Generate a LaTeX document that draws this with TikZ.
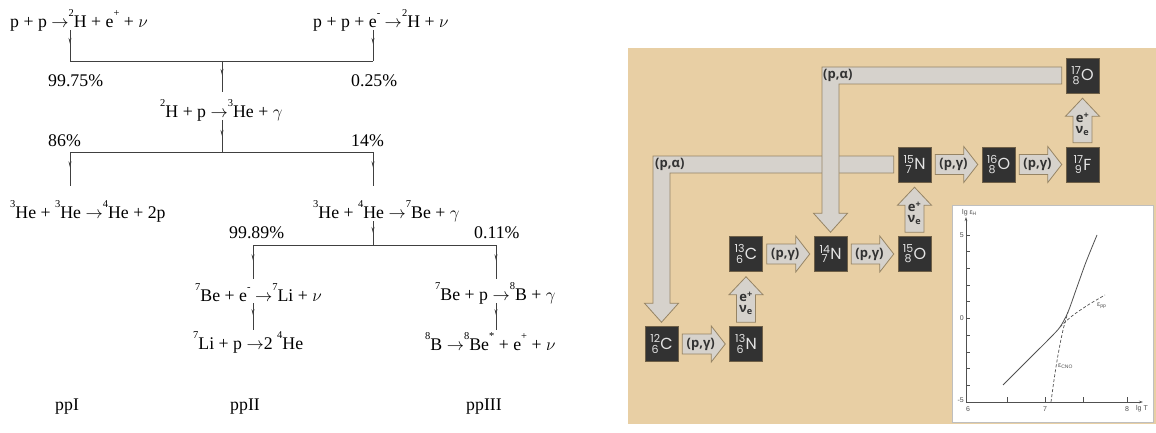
\documentclass[tikz,border=0pt]{standalone}
\usepackage{fontspec}
\usetikzlibrary{arrows.meta,calc,decorations.markings}
\setmainfont{Liberation Serif}
\newfontfamily\nucfamily{Poppins}
\newfontfamily\lblfamily{Open Sans}
\newfontfamily\gfamily{Liberation Sans}
\definecolor{tanbg}{RGB}{232,207,164}
\definecolor{boxc}{RGB}{50,50,50}
\definecolor{boxedge}{RGB}{110,95,70}
\definecolor{nuctext}{RGB}{228,228,228}
\definecolor{arrfill}{RGB}{214,210,204}
\definecolor{arredge}{RGB}{150,132,100}
\definecolor{lbltext}{RGB}{50,50,50}
\definecolor{graphline}{RGB}{80,80,80}
\newcommand\pptextfont{\fontsize{17.8}{20}\selectfont}
\newcommand\lblfont{\lblfamily\bfseries\fontsize{13}{13}\selectfont}
\newcommand\gfont{\gfamily\fontsize{7}{7}\selectfont}
\newcommand\sps[1]{\raisebox{0.62em}{\fontsize{10.5}{10.5}\selectfont #1}}
\newcommand\ra{$\rightarrow$}
\newcommand\nuc[3]{{\nucfamily\raisebox{-3.5pt}{\fontsize{11}{9}\selectfont\shortstack{#1\\[-1pt]#2}}\kern0.3pt{\fontsize{16}{16}\selectfont #3}}}
\newcommand\pgarrow[2]{%
  \draw[fat] ($(#1.east)+(4,-10)$) -- ($(#2.west)+(-18,-10)$) -- ($(#2.west)+(-18,-18)$) -- ($(#2.west)+(-4,0)$) -- ($(#2.west)+(-18,18)$) -- ($(#2.west)+(-18,10)$) -- ($(#1.east)+(4,10)$) -- cycle;
  \node[rlabel] at ($(#1.east)!0.5!(#2.west)+(-3,0)$) {(p,γ)};}
\newcommand\evarrow[2]{%
  \draw[fat] ($(#1.north)+(-9.5,-4)$) -- ($(#2.south)+(-9.5,23)$) -- ($(#2.south)+(-17,23)$) -- ($(#2.south)+(0,5)$) -- ($(#2.south)+(17,23)$) -- ($(#2.south)+(9.5,23)$) -- ($(#1.north)+(9.5,-4)$) -- cycle;
  \node[rlabel, align=center] at ($(#1.north)!0.5!(#2.south)+(0,4)$) {e\textsuperscript{+}\\[-2pt]ν\textsubscript{e}};}
\begin{document}
\begin{tikzpicture}[x=1pt,y=-1pt,
  pptext/.style={inner sep=0pt, anchor=west, font=\pptextfont},
  ppline/.style={draw=black!75, line width=0.7pt},
  midarrow/.style={postaction={decorate}, decoration={markings, mark=at position #1 with {\arrow{Stealth[length=6pt,width=3pt]}}}},
  nucbox/.style={fill=boxc, draw=boxedge, line width=0.5pt, minimum width=33pt, minimum height=35pt, inner sep=0pt, text=nuctext},
  fat/.style={fill=arrfill, draw=arredge, line width=0.8pt, line join=miter},
  rlabel/.style={font=\lblfont, text=lbltext, inner sep=0pt},
  gline/.style={draw=graphline, line width=0.7pt},
  gtext/.style={font=\gfont, text=graphline, inner sep=1pt},
]
\useasboundingbox (0,0) rectangle (1156,433);

% ---------------- pp chain ----------------
\node[pptext] (rA) at (10,20) {p + p \ra\sps{2}H + e\sps{+} + $\nu$};
\node[pptext] (rB) at (313,20) {p + p + e\sps{-} \ra\sps{2}H + $\nu$};
\node[pptext] at (48,81) {99.75\%};
\node[pptext] at (351,81) {0.25\%};
\node[pptext] (rC) at (160,110) {\sps{2}H + p \ra\sps{3}He + $\gamma$};
\node[pptext] at (48,141) {86\%};
\node[pptext] at (351,141) {14\%};
\node[pptext] (rD) at (10,211) {\sps{3}He + \sps{3}He \ra\sps{4}He + 2p};
\node[pptext] (rE) at (313,211) {\sps{3}He + \sps{4}He \ra\sps{7}Be + $\gamma$};
\node[pptext] at (229,233) {99.89\%};
\node[pptext] at (474,233) {0.11\%};
\node[pptext] (rF) at (195,293) {\sps{7}Be + e\sps{-} \ra\sps{7}Li + $\nu$};
\node[pptext] (rG) at (435,293) {\sps{7}Be + p \ra\sps{8}B + $\gamma$};
\node[pptext] (rH) at (193,342) {\sps{7}Li + p \ra2 \sps{4}He};
\node[pptext] (rI) at (425,342) {\sps{8}B \ra\sps{8}Be\sps{*} + e\sps{+} + $\nu$};
\node[pptext] at (55,407) {ppI};
\node[pptext] at (230,407) {ppII};
\node[pptext] at (466,407) {ppIII};

\coordinate (a1) at (70,30);  \coordinate (a2) at (70,61);
\coordinate (b1) at (373,30); \coordinate (b2) at (373,61);
\coordinate (j1) at (222,61); \coordinate (c0) at (222,92);
\draw[ppline,midarrow=0.45] (a1) -- (a2);
\draw[ppline,midarrow=0.45] (b1) -- (b2);
\draw[ppline] (a2) -- (b2);
\draw[ppline,midarrow=0.45] (j1) -- (c0);

\coordinate (c1) at (222,120); \coordinate (j2) at (222,152);
\coordinate (d0) at (70,152);  \coordinate (d1) at (70,186);
\coordinate (e0) at (373,152); \coordinate (e1) at (373,186);
\draw[ppline,midarrow=0.5] (c1) -- (j2);
\draw[ppline] (d0) -- (e0);
\draw[ppline,midarrow=0.45] (d0) -- (d1);
\draw[ppline,midarrow=0.45] (e0) -- (e1);

\coordinate (e2) at (373,221); \coordinate (j3) at (373,245);
\coordinate (f0) at (253,245); \coordinate (f1) at (253,279);
\coordinate (g0) at (496,245); \coordinate (g1) at (496,279);
\draw[ppline,midarrow=0.5] (e2) -- (j3);
\draw[ppline] (f0) -- (g0);
\draw[ppline,midarrow=0.45] (f0) -- (f1);
\draw[ppline,midarrow=0.45] (g0) -- (g1);

\coordinate (f2) at (253,303); \coordinate (f3) at (253,330);
\coordinate (g2) at (496,303); \coordinate (g3) at (496,330);
\draw[ppline,midarrow=0.45] (f2) -- (f3);
\draw[ppline,midarrow=0.45] (g2) -- (g3);

% ---------------- CNO cycle ----------------
\fill[tanbg] (628,48) rectangle (1156,424);

\node[nucbox] (c12) at (661.5,344) {\nuc{12}{6}{C}};
\node[nucbox] (n13) at (746,344)   {\nuc{13}{6}{N}};
\node[nucbox] (c13) at (746,254)   {\nuc{13}{6}{C}};
\node[nucbox] (n14) at (830.5,254) {\nuc{14}{7}{N}};
\node[nucbox] (o15) at (914.5,254) {\nuc{15}{8}{O}};
\node[nucbox] (n15) at (914.5,164.5) {\nuc{15}{7}{N}};
\node[nucbox] (o16) at (998.5,164.5) {\nuc{16}{8}{O}};
\node[nucbox] (f17) at (1082.5,164.5) {\nuc{17}{9}{F}};
\node[nucbox] (o17) at (1082.5,75.5) {\nuc{17}{8}{O}};

% lower (p,alpha) : 15N -> 12C
\draw[fat] ($(n15.west)+(-4,-8.5)$) -- ($(c12.north |- n15.west)+(-8.5,-8.5)$) -- ($(c12.north)+(-8.5,-23)$) -- ($(c12.north)+(-17,-23)$) -- ($(c12.north)+(0,-4)$) -- ($(c12.north)+(17,-23)$) -- ($(c12.north)+(8.5,-23)$) -- ($(c12.north |- n15.west)+(8.5,8.5)$) -- ($(n15.west)+(-4,8.5)$) -- cycle;
\node[rlabel, anchor=west] at ($(c12.north |- n15.west)+(-6.5,0)$) {(p,α)};
% upper (p,alpha) : 17O -> 14N
\draw[fat] ($(o17.west)+(-4,-8.5)$) -- ($(n14.north |- o17.west)+(-8.5,-8.5)$) -- ($(n14.north)+(-8.5,-23)$) -- ($(n14.north)+(-17,-23)$) -- ($(n14.north)+(0,-4)$) -- ($(n14.north)+(17,-23)$) -- ($(n14.north)+(8.5,-23)$) -- ($(n14.north |- o17.west)+(8.5,8.5)$) -- ($(o17.west)+(-4,8.5)$) -- cycle;
\node[rlabel, anchor=west] at ($(n14.north |- o17.west)+(-7.5,0)$) {(p,α)};

\pgarrow{c12}{n13}
\pgarrow{c13}{n14}
\pgarrow{n14}{o15}
\pgarrow{n15}{o16}
\pgarrow{o16}{f17}
\evarrow{n13}{c13}
\evarrow{o15}{n15}
\evarrow{f17}{o17}

% ---------------- inset graph ----------------
\draw[fill=white, draw=black!25, line width=0.6pt] (952,205) rectangle (1153,422);
\draw[gline,-{Stealth[length=4pt,width=2.5pt]}] (966,402) -- (966,217);
\draw[gline,-{Stealth[length=4pt,width=2.5pt]}] (966,402) -- (1143,402);
\foreach \k in {1,...,10} \draw[gline] (966,402-16.7*\k) -- (970,402-16.7*\k);
\foreach \xx in {1007,1045,1083,1127} \draw[gline] (\xx,402) -- (\xx,397);
\node[gtext, anchor=east] at (965,235) {5};
\node[gtext, anchor=east] at (965,318) {0};
\node[gtext, anchor=east] at (965,400) {-5};
\node[gtext] at (968,409) {6};
\node[gtext] at (1045,409) {7};
\node[gtext] at (1127,409) {8};
\node[gtext] at (1142,409) {lg T};
\node[gtext, anchor=west] at (961,213) {lg ε\textsubscript{H}};
\draw[gline, line width=0.8pt] plot[smooth] coordinates {(1003,385) (1030,358) (1050,338) (1060,327) (1068,312) (1077,287) (1086,262) (1097,235)};
\draw[gline, dashed, dash pattern=on 3pt off 2pt] plot[smooth] coordinates {(1060,327) (1072,316) (1088,305) (1105,295)};
\draw[gline, dashed, dash pattern=on 3pt off 2pt] plot[smooth] coordinates {(1051,402) (1054,380) (1058,355) (1063,330) (1068,312)};
\node[gtext, anchor=west] at (1096,306) {ε\textsubscript{pp}};
\node[gtext, anchor=west] at (1057,366) {ε\textsubscript{CNO}};
\end{tikzpicture}
\end{document}
